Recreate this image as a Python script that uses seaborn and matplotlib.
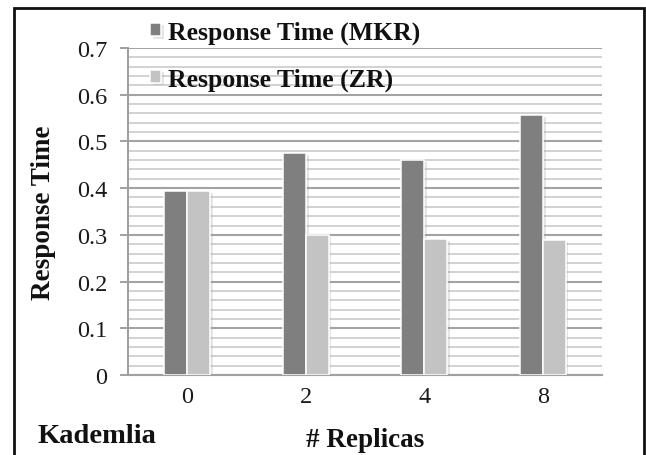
import matplotlib
matplotlib.use("Agg")
import matplotlib.pyplot as plt
import matplotlib.patheffects as pe
from matplotlib.patches import Rectangle
from matplotlib.ticker import MultipleLocator
import pandas as pd
import seaborn as sns

# Data
replicas = ["0", "2", "4", "8"]
series_names = ["Response Time (MKR)", "Response Time (ZR)"]
mkr_values = [0.393, 0.476, 0.460, 0.557]
zr_values = [0.393, 0.300, 0.291, 0.290]
bar_colors = ["#7f7f7f", "#c3c3c3"]

df = pd.DataFrame({
    "Replicas": replicas * 2,
    "Series": [series_names[0]] * len(replicas) + [series_names[1]] * len(replicas),
    "Response Time": mkr_values + zr_values,
})

sns.set_theme(style="white")
plt.rcParams["font.family"] = ["Liberation Serif", "DejaVu Serif"]

W, H = 646, 456
fig = plt.figure(figsize=(W / 100, H / 100), dpi=100)
ax = fig.add_axes([128 / W, 1 - 376 / H, 474 / W, 327 / H])

sns.barplot(
    data=df, x="Replicas", y="Response Time", hue="Series",
    order=replicas, hue_order=series_names, palette=bar_colors,
    width=0.385, edgecolor="white", linewidth=1.1, saturation=1,
    ax=ax, zorder=3,
)

shadow = [pe.SimplePatchShadow(offset=(2, -1.5), shadow_rgbFace="#9a9a9a", alpha=0.25), pe.Normal()]
for p in ax.patches:
    p.set_path_effects(shadow)

ax.set_xlim(-0.5, 3.5)
ax.set_ylim(0, 0.7)
ax.yaxis.set_major_locator(MultipleLocator(0.1))
ax.yaxis.set_minor_locator(MultipleLocator(0.02))
ax.set_yticks([0, 0.1, 0.2, 0.3, 0.4, 0.5, 0.6, 0.7])
ax.set_yticklabels(["0", "0.1", "0.2", "0.3", "0.4", "0.5", "0.6", "0.7"])

ax.grid(axis="y", which="major", color="#a3a3a3", linewidth=1.5, zorder=0)
ax.grid(axis="y", which="minor", color="#d2d2d2", linewidth=1.4, zorder=0)
ax.grid(axis="x", visible=False)
ax.set_axisbelow(True)

for side in ["top", "right"]:
    ax.spines[side].set_visible(False)
for side in ["left", "bottom"]:
    ax.spines[side].set_color("#a0a0a0")
    ax.spines[side].set_linewidth(1.5)

ax.tick_params(axis="y", which="major", left=True, length=6, width=1.4, color="#a0a0a0",
               labelsize=17.5, labelcolor="#1a1a1a", pad=9)
ax.tick_params(axis="y", which="minor", left=False)
ax.tick_params(axis="x", length=0, labelsize=17.5, labelcolor="#1a1a1a", pad=8)

ax.set_ylabel("Response Time", fontsize=19.5, fontweight="bold", color="#111111")
ax.yaxis.set_label_coords(-0.178, 0.5)
ax.yaxis.label.set_va("center")
ax.set_xlabel("# Replicas", fontsize=19.5, fontweight="bold", color="#111111")
ax.xaxis.set_label_coords(0.5, -0.196)
ax.xaxis.label.set_va("center")

fig.text(38 / W, 1 - 443 / H, "Kademlia", fontsize=20.5, fontweight="bold",
         color="#111111", ha="left", va="baseline")

handles, labels = ax.get_legend_handles_labels()
leg = ax.legend(
    handles, labels, loc="upper left",
    bbox_to_anchor=(150 / W, 1 - 22 / H), bbox_transform=fig.transFigure,
    frameon=False, borderpad=0, borderaxespad=0,
    handlelength=0.42, handleheight=0.42, handletextpad=0.3,
    labelspacing=0.9, prop={"size": 18.5, "weight": "bold"},
)
for t in leg.get_texts():
    t.set_color("#111111")

# Outer frame around the chart
fig.patches.append(Rectangle((14 / W, -0.1), (644 - 14) / W, 1.1 - 9 / H,
                             transform=fig.transFigure, fill=False,
                             edgecolor="#111111", linewidth=2.0, clip_on=False))

fig.savefig("out.png", dpi=100)
